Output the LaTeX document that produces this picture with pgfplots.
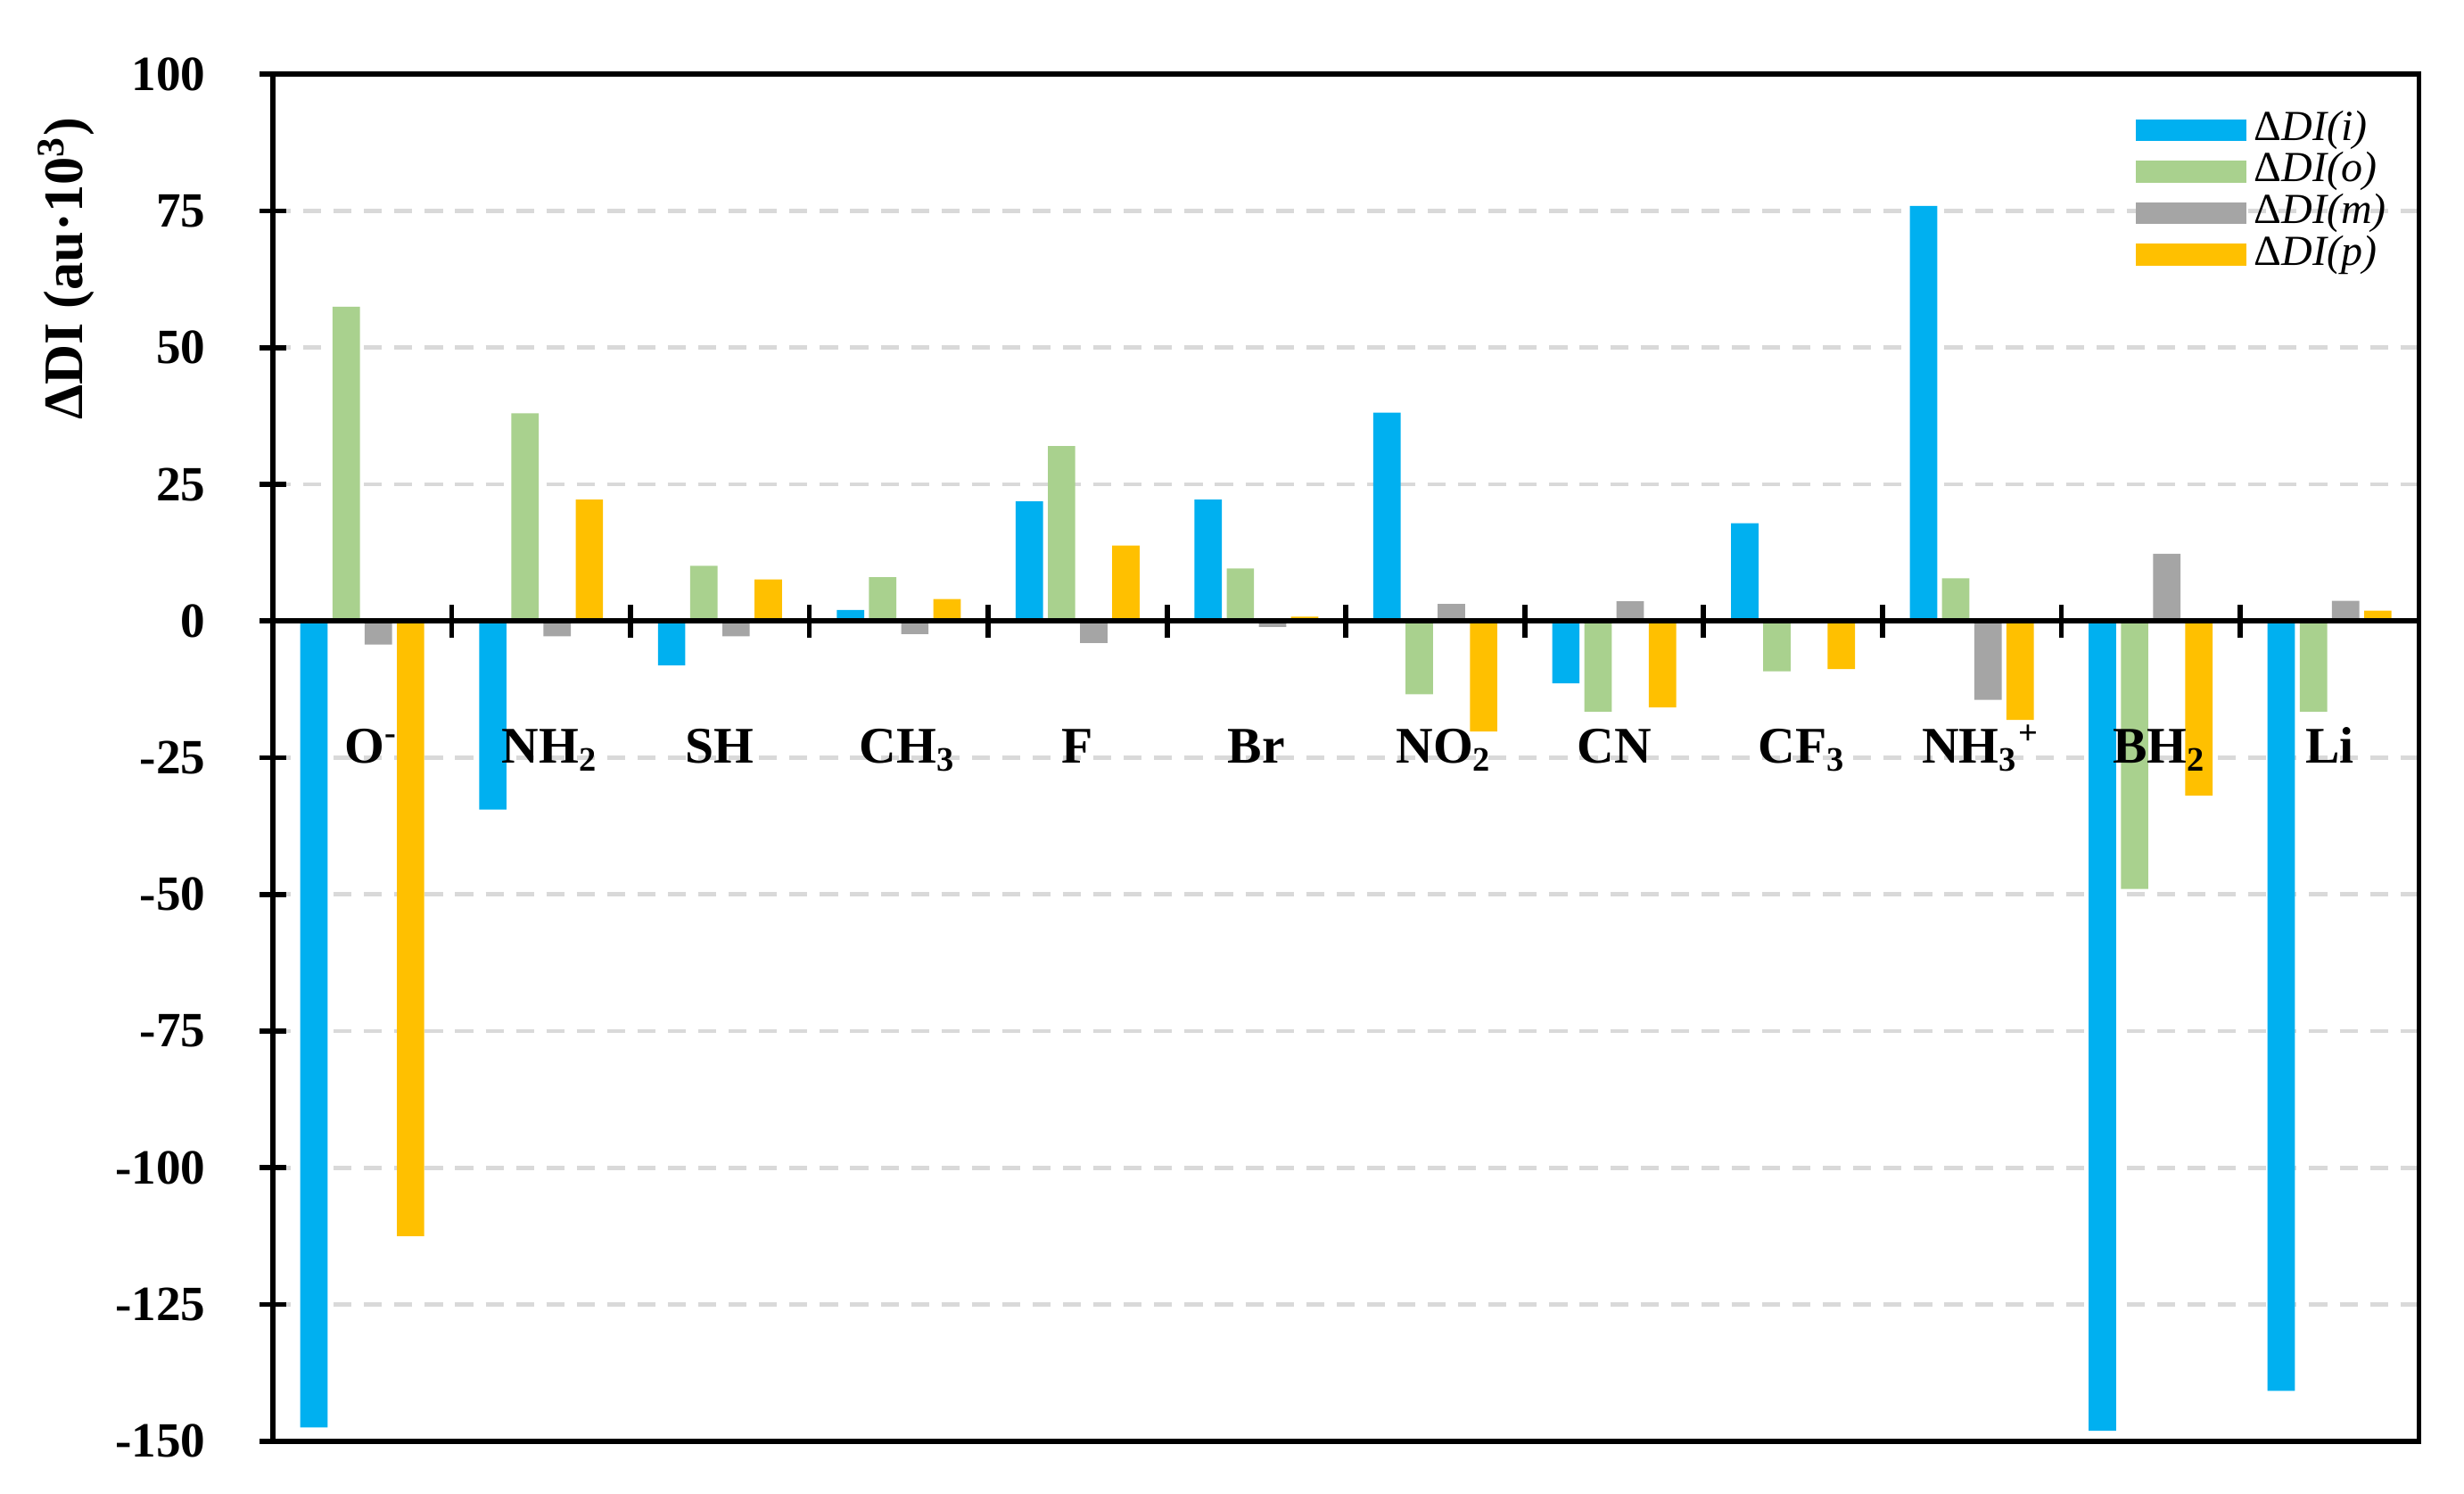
\documentclass[border=0pt]{standalone}
\usepackage{fontspec}
\setmainfont{Liberation Serif}
\usepackage{pgfplots}
\pgfplotsset{compat=1.18}

\definecolor{cI}{RGB}{0,176,240}
\definecolor{cO}{RGB}{169,209,142}
\definecolor{cM}{RGB}{165,165,165}
\definecolor{cP}{RGB}{255,192,0}
\definecolor{gridc}{RGB}{217,217,217}

\begin{document}
\begin{tikzpicture}
\begin{axis}[
  scale only axis,
  width=17.62cm, height=11.22cm,
  ybar, bar width=0.153,
  xmin=-0.5, xmax=11.5,
  ymin=-150, ymax=100,
  xtick=\empty,
  ytick={-150,-125,...,100},
  ytick pos=left,
  tick align=center,
  major tick length=0.22cm,
  every tick/.style={black, line width=1.2pt},
  axis line style={black, line width=1.2pt},
  ymajorgrids,
  major grid style={gridc, line width=1pt, dash pattern=on 4.2pt off 2.9pt},
  /pgf/number format/assume math mode=true,
  yticklabel style={font=\bfseries\fontsize{11.5}{13}\selectfont, xshift=-0.32cm},
  ylabel={ΔDI (au·10\textsuperscript{3})},
  ylabel style={font=\bfseries\fontsize{13}{15}\selectfont, at={(axis description cs:-0.0964,0.858)}, anchor=center},
  legend image code/.code={\fill[#1] (0cm,-0.09cm) rectangle (0.91cm,0.09cm);},
  legend style={draw=none, fill=none, at={(axis description cs:0.8675,0.975)}, anchor=north west,
    font=\fontsize{10}{11}\selectfont, inner sep=0pt, column sep=0.05cm,
    nodes={inner sep=0.45pt, text height=6.8pt, text depth=2pt}},
  legend cell align=left,
]
% delta DI(i)
\addplot[fill=cI, draw=none, bar shift=-0.27] coordinates {
  (0,-147.5) (1,-34.5) (2,-8.1) (3,2.0) (4,21.9) (5,22.2)
  (6,38.1) (7,-11.4) (8,17.9) (9,75.9) (10,-148.1) (11,-140.8)};
% delta DI(o)
\addplot[fill=cO, draw=none, bar shift=-0.09] coordinates {
  (0,57.5) (1,38.0) (2,10.1) (3,8.0) (4,32.0) (5,9.6)
  (6,-13.4) (7,-16.6) (8,-9.2) (9,7.8) (10,-49.0) (11,-16.6)};
% delta DI(m)
\addplot[fill=cM, draw=none, bar shift=0.09] coordinates {
  (0,-4.3) (1,-2.8) (2,-2.8) (3,-2.4) (4,-4.0) (5,-1.1)
  (6,3.1) (7,3.6) (8,0) (9,-14.4) (10,12.3) (11,3.7)};
% delta DI(p)
\addplot[fill=cP, draw=none, bar shift=0.27] coordinates {
  (0,-112.5) (1,22.2) (2,7.6) (3,4.0) (4,13.8) (5,0.8)
  (6,-20.2) (7,-15.8) (8,-8.8) (9,-18.1) (10,-31.9) (11,1.9)};
\legend{\textup{Δ}\textit{DI(i)}, \textup{Δ}\textit{DI(o)}, \textup{Δ}\textit{DI(m)}, \textup{Δ}\textit{DI(p)}}

% zero line with separators
\draw[black, line width=1.2pt] (axis cs:-0.5,0) -- (axis cs:11.5,0);
\pgfplotsinvokeforeach{0.5,1.5,2.5,3.5,4.5,5.5,6.5,7.5,8.5,9.5,10.5}{
  \draw[black, line width=1.2pt] (axis cs:#1,-3) -- (axis cs:#1,3);
}

% category names
\begin{scope}[every node/.style={font=\bfseries\fontsize{12}{14}\selectfont, anchor=base}]
\node at (axis cs:0.05,-26) {O\textsuperscript{-}};
\node at (axis cs:1.05,-26) {NH\textsubscript{2}};
\node at (axis cs:2,-26) {SH};
\node at (axis cs:3.05,-26) {CH\textsubscript{3}};
\node at (axis cs:4,-26) {F};
\node at (axis cs:5,-26) {Br};
\node at (axis cs:6.05,-26) {NO\textsubscript{2}};
\node at (axis cs:7,-26) {CN};
\node at (axis cs:8.05,-26) {CF\textsubscript{3}};
\node at (axis cs:9.05,-26) {NH\textsubscript{3}\textsuperscript{+}};
\node at (axis cs:10.05,-26) {BH\textsubscript{2}};
\node at (axis cs:11,-26) {Li};
\end{scope}
\end{axis}
\path (current axis.south west) ++(-2.24cm,-0.43cm);
\path (current axis.north east) ++(0.37cm,0.61cm);
\end{tikzpicture}
\end{document}
